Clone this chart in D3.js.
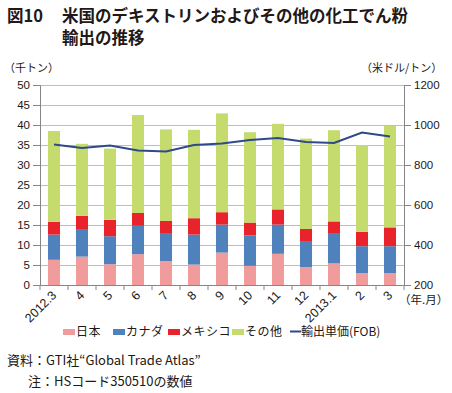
<!DOCTYPE html>
<html><head><meta charset="utf-8">
<script src="https://cdn.jsdelivr.net/npm/d3@7"></script>
<style>
body{margin:0;background:#fff;}
text{font-family:"Liberation Sans","Noto Sans CJK JP",sans-serif;}
.jp{font-family:"Noto Sans CJK JP",sans-serif;}
</style></head>
<body>
<svg id="c" width="452" height="393"></svg>
<script>
const categories = ["2012.3","4","5","6","7","8","9","10","11","12","2013.1","2","3"];
const japan  = [6.3, 7.1, 5.2, 7.7, 6.0, 5.1, 8.1, 4.8, 7.8, 4.5, 5.4, 3.0, 3.0];
const canada = [6.3, 6.7, 7.0, 7.1, 7.0, 7.5, 7.0, 7.6, 7.3, 6.3, 7.4, 6.7, 6.7];
const mexico = [3.2, 3.5, 4.1, 3.2, 3.0, 4.1, 3.1, 3.2, 3.8, 3.2, 3.1, 3.6, 4.7];
const other  = [22.7, 18.0, 17.8, 24.5, 22.9, 22.1, 24.7, 22.6, 21.4, 22.6, 22.8, 21.7, 25.4];
const unitPrice = [902, 885, 898, 872, 868, 900, 908, 925, 935, 915, 910, 962, 942];
const leftTicks = [0,5,10,15,20,25,30,35,40,45,50];
const rightTicks = [200,400,600,800,1000,1200];
const seriesNames = ["日本","カナダ","メキシコ","その他"];
const lineName = "輸出単価(FOB)";
const colors = ["#F19C9C","#4F81BD","#E8232B","#C6DB6E"];
const lineColor = "#2F4A88";

const svg = d3.select("#c");
const X0=40, X1=404, Y0=285, Y1=85;
const x = d3.scaleBand().domain(categories).range([X0,X1]).paddingInner(0.57).paddingOuter(0.285);
const y = d3.scaleLinear().domain([0,50]).range([Y0,Y1]);
const y2 = d3.scaleLinear().domain([200,1200]).range([Y0,Y1]);
const ink = "#231815";

// title
svg.append("text").attr("class","jp").attr("x",7).attr("y",22).attr("font-size",16.5).attr("font-weight","bold").attr("fill",ink).text("図10");
svg.append("text").attr("class","jp").attr("x",62).attr("y",22).attr("font-size",16.5).attr("font-weight","bold").attr("fill",ink).text("米国のデキストリンおよびその他の化工でん粉");
svg.append("text").attr("class","jp").attr("x",62).attr("y",44).attr("font-size",16.5).attr("font-weight","bold").attr("fill",ink).text("輸出の推移");

// units
svg.append("text").attr("class","jp").attr("x",4).attr("y",72).attr("font-size",11).attr("fill",ink).text("（千トン）");
svg.append("text").attr("class","jp").attr("x",361).attr("y",72).attr("font-size",11).attr("fill",ink).text("（米ドル/トン）");

// gridlines
svg.append("g").selectAll("line").data(leftTicks.slice(1)).join("line")
  .attr("x1",X0).attr("x2",X1).attr("y1",d=>y(d)+0.5).attr("y2",d=>y(d)+0.5)
  .attr("stroke","#BDBDBD").attr("stroke-width",1);

// stacked bars
const rows = categories.map((c,i)=>({cat:c, s0:japan[i], s1:canada[i], s2:mexico[i], s3:other[i]}));
const stack = d3.stack().keys(["s0","s1","s2","s3"])(rows);
svg.append("g").selectAll("g").data(stack).join("g").attr("fill",(d,i)=>colors[i])
  .selectAll("rect").data(d=>d).join("rect")
  .attr("x",d=>x(d.data.cat)).attr("width",x.bandwidth())
  .attr("y",d=>y(d[1])).attr("height",d=>y(d[0])-y(d[1]));

// axes
const gl = svg.append("g").attr("transform",`translate(${X0},0)`)
  .call(d3.axisLeft(y).tickValues(leftTicks).tickSize(7).tickPadding(3));
const gr = svg.append("g").attr("transform",`translate(${X1},0)`)
  .call(d3.axisRight(y2).tickValues(rightTicks).tickFormat(d3.format("d")).tickSize(7).tickPadding(3));
[gl,gr].forEach(g=>{
  g.select(".domain").attr("stroke","#868686");
  g.selectAll(".tick line").attr("stroke","#868686");
  g.selectAll(".tick text").attr("font-size",11.5).attr("fill",ink).attr("font-family","Liberation Sans, sans-serif");
});
const gx = svg.append("g").attr("transform",`translate(0,${Y0})`)
  .call(d3.axisBottom(x).tickSize(0).tickPadding(0));
gx.select(".domain").attr("stroke","#868686");
gx.selectAll(".tick text").attr("font-size",12.5).attr("fill",ink)
  .attr("text-anchor","end").attr("y",0).attr("dy","0.35em")
  .attr("transform","translate(0,8) rotate(-45)");
// boundary ticks
const bounds = categories.map(c=>x(c)-x.step()*x.paddingInner()/2).concat([X1]);
svg.append("g").selectAll("line").data(bounds).join("line")
  .attr("x1",d=>d).attr("x2",d=>d).attr("y1",Y0).attr("y2",Y0+5).attr("stroke","#868686");
svg.append("text").attr("class","jp").attr("x",399).attr("y",304).attr("font-size",11.5).attr("fill",ink).text("（年.月）");

// line
svg.append("path").datum(unitPrice)
  .attr("fill","none").attr("stroke",lineColor).attr("stroke-width",2)
  .attr("d",d3.line().x((d,i)=>x(categories[i])+x.bandwidth()/2).y(d=>y2(d)));

// legend
const lg = svg.append("g");
const lx = [63,113,168,232];
seriesNames.forEach((n,i)=>{
  lg.append("rect").attr("x",lx[i]).attr("y",329).attr("width",12).attr("height",6).attr("fill",colors[i]);
  lg.append("text").attr("class","jp").attr("x",lx[i]+13).attr("y",336).attr("font-size",12).attr("letter-spacing",0.5).attr("fill",ink).text(n);
});
lg.append("line").attr("x1",290).attr("x2",301).attr("y1",331.5).attr("y2",331.5).attr("stroke",lineColor).attr("stroke-width",2);
lg.append("text").attr("class","jp").attr("x",301).attr("y",336).attr("font-size",12).attr("fill",ink).text(lineName);

// source
svg.append("text").attr("class","jp").attr("x",7).attr("y",365).attr("font-size",13).attr("fill",ink).text("資料：GTI社“Global Trade Atlas”");
svg.append("text").attr("class","jp").attr("x",28).attr("y",386).attr("font-size",13).attr("fill",ink).text("注：HSコード350510の数値");
</script>
</body></html>
